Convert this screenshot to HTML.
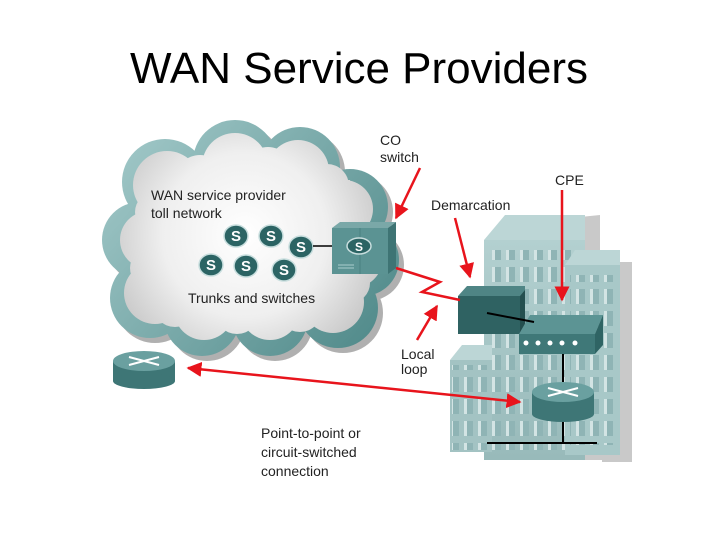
<!DOCTYPE html>
<html><head><style>
body{margin:0;width:720px;height:540px;background:#fff;overflow:hidden;font-family:"Liberation Sans",Arial,sans-serif;}
</style></head><body>
<svg width="720" height="540" viewBox="0 0 720 540" xmlns="http://www.w3.org/2000/svg" font-family="Liberation Sans, Arial, sans-serif">
<defs>
<radialGradient id="cg" gradientUnits="userSpaceOnUse" cx="245" cy="235" r="150"><stop offset="0" stop-color="#ffffff"/><stop offset="0.55" stop-color="#efefef"/><stop offset="1" stop-color="#c4c4c4"/></radialGradient>
<linearGradient id="tl" gradientUnits="userSpaceOnUse" x1="110" y1="120" x2="400" y2="360"><stop offset="0" stop-color="#a5cbcb"/><stop offset="1" stop-color="#4a8585"/></linearGradient>
<linearGradient id="bf" x1="0" y1="0" x2="0" y2="1"><stop offset="0" stop-color="#b3d0d0"/><stop offset="1" stop-color="#98baba"/></linearGradient>
<pattern id="win" width="14" height="22" patternUnits="userSpaceOnUse"><rect x="2" y="3" width="9" height="15" fill="#8fb4b5"/><rect x="2" y="3" width="3" height="15" fill="#d3e4e4"/></pattern>
<marker id="ah" viewBox="0 0 10 10" refX="9" refY="5" markerWidth="6" markerHeight="6" orient="auto-start-reverse"><path d="M0,0L10,5L0,10z" fill="#e8141c"/></marker>
</defs>
<text x="359" y="83" font-size="44" text-anchor="middle" fill="#000">WAN Service Providers</text>

<g fill="#b0b0b0">
<circle cx="170" cy="187" r="43"/><circle cx="240" cy="167" r="42"/><circle cx="305" cy="172" r="40"/><circle cx="355" cy="212" r="38"/><circle cx="368" cy="265" r="36"/><circle cx="343" cy="313" r="40"/><circle cx="275" cy="323" r="38"/><circle cx="207" cy="323" r="38"/><circle cx="155" cy="303" r="40"/><circle cx="145" cy="245" r="38"/>
<rect x="150" y="180" width="210" height="140"/>
</g>
<g fill="url(#tl)">
<circle cx="165" cy="182" r="43"/><circle cx="235" cy="162" r="42"/><circle cx="300" cy="167" r="40"/><circle cx="350" cy="207" r="38"/><circle cx="363" cy="260" r="36"/><circle cx="338" cy="308" r="40"/><circle cx="270" cy="318" r="38"/><circle cx="202" cy="318" r="38"/><circle cx="150" cy="298" r="40"/><circle cx="140" cy="240" r="38"/>
<rect x="145" y="175" width="210" height="140"/>
</g>
<g fill="url(#cg)">
<circle cx="167" cy="185" r="34"/><circle cx="235" cy="166" r="33"/><circle cx="298" cy="171" r="31"/><circle cx="344" cy="209" r="29"/><circle cx="355" cy="260" r="27"/><circle cx="333" cy="302" r="31"/><circle cx="270" cy="310" r="30"/><circle cx="204" cy="310" r="30"/><circle cx="155" cy="293" r="31"/><circle cx="149" cy="240" r="29"/>
<rect x="150" y="180" width="200" height="130"/>
<circle cx="200" cy="180" r="25"/><circle cx="268" cy="172" r="25"/><circle cx="327" cy="186" r="22"/><circle cx="353" cy="236" r="20"/><circle cx="350" cy="283" r="20"/><circle cx="300" cy="310" r="22"/><circle cx="237" cy="312" r="22"/><circle cx="175" cy="305" r="22"/><circle cx="150" cy="268" r="20"/><circle cx="155" cy="212" r="20"/>
</g>
<text x="151" y="200" font-size="14" fill="#222">WAN service provider</text>
<text x="151" y="218" font-size="14" fill="#222">toll network</text>
<text x="188" y="303" font-size="14" fill="#222">Trunks and switches</text>
<g font-size="15" font-weight="bold" fill="#fff" text-anchor="middle">
<g><ellipse cx="236" cy="236" rx="12" ry="11" fill="#2c6464" stroke="#c8dede" stroke-width="1.5"/><text x="236" y="241">S</text></g>
<g><ellipse cx="271" cy="236" rx="12" ry="11" fill="#2c6464" stroke="#c8dede" stroke-width="1.5"/><text x="271" y="241">S</text></g>
<g><ellipse cx="301" cy="247" rx="12" ry="11" fill="#2c6464" stroke="#c8dede" stroke-width="1.5"/><text x="301" y="252">S</text></g>
<g><ellipse cx="211" cy="265" rx="12" ry="11" fill="#2c6464" stroke="#c8dede" stroke-width="1.5"/><text x="211" y="270">S</text></g>
<g><ellipse cx="246" cy="266" rx="12" ry="11" fill="#2c6464" stroke="#c8dede" stroke-width="1.5"/><text x="246" y="271">S</text></g>
<g><ellipse cx="284" cy="270" rx="12" ry="11" fill="#2c6464" stroke="#c8dede" stroke-width="1.5"/><text x="284" y="275">S</text></g>
</g>
<line x1="313" y1="246" x2="345" y2="246" stroke="#000" stroke-width="1.5"/>
<polygon points="332,228 388,228 396,222 340,222" fill="#7aa8a8"/>
<polygon points="388,228 396,222 396,268 388,274" fill="#3e7474"/>
<rect x="332" y="228" width="56" height="46" fill="#5b9393"/>
<line x1="360" y1="228" x2="360" y2="274" stroke="#4a8080"/>
<line x1="338" y1="265" x2="354" y2="265" stroke="#a8cccc"/><line x1="338" y1="268" x2="354" y2="268" stroke="#a8cccc"/>
<ellipse cx="359" cy="246" rx="12" ry="8" fill="#2c6464" stroke="#c8dede" stroke-width="1.5"/>
<text x="359" y="251" font-size="12" font-weight="bold" fill="#fff" text-anchor="middle">S</text>

<polygon points="500,225 600,215 600,445 620,450 630,270 618,262" fill="#c9c9c9"/>
<rect x="602" y="262" width="30" height="200" fill="#c9c9c9"/>
<rect x="500" y="440" width="130" height="20" fill="#c9c9c9"/>
<polygon points="484,240 505,215 585,215 585,240" fill="#bcd6d6"/>
<rect x="484" y="240" width="101" height="220" fill="url(#bf)"/>
<rect x="490" y="250" width="90" height="200" fill="url(#win)"/>
<polygon points="565,265 575,250 620,250 620,265" fill="#bcd6d6"/>
<rect x="565" y="265" width="55" height="190" fill="#a8c8c8"/>
<rect x="570" y="275" width="45" height="170" fill="url(#win)"/>
<polygon points="450,360 462,345 492,345 492,360" fill="#bcd6d6"/>
<rect x="450" y="360" width="42" height="92" fill="#a3c3c3"/>
<rect x="452" y="365" width="40" height="85" fill="url(#win)"/>

<polygon points="458,296 467,286 525,286 525,296" fill="#4f8585"/>
<rect x="458" y="296" width="62" height="38" fill="#2f6262"/>
<polygon points="520,296 525,290 525,330 520,334" fill="#244f4f"/>
<polygon points="519,334 530,315 603,315 595,334" fill="#5c9494"/>
<polygon points="595,334 603,315 603,345 595,354" fill="#2f6464"/>
<rect x="519" y="334" width="76" height="20" fill="#3f7878"/>
<g fill="#fff"><circle cx="526" cy="343" r="2.5"/><circle cx="538" cy="343" r="2.5"/><circle cx="550" cy="343" r="2.5"/><circle cx="562" cy="343" r="2.5"/><circle cx="575" cy="343" r="2.5"/></g>
<line x1="487" y1="313" x2="534" y2="322" stroke="#000" stroke-width="2"/>
<line x1="563" y1="354" x2="563" y2="382" stroke="#000" stroke-width="2"/>
<line x1="563" y1="418" x2="563" y2="443" stroke="#000" stroke-width="2"/>
<line x1="487" y1="443" x2="597" y2="443" stroke="#000" stroke-width="2"/>
<g>
<rect x="532" y="392" width="62" height="22" fill="#3e7676"/><ellipse cx="563" cy="414" rx="31" ry="8" fill="#3e7676"/>
<ellipse cx="563" cy="392" rx="31" ry="10" fill="#6aa0a0"/>
<path d="M548,388 L578,396 M548,396 L578,388" stroke="#fff" stroke-width="2"/>
</g>
<g>
<rect x="113" y="361" width="62" height="20" fill="#3e7676"/><ellipse cx="144" cy="381" rx="31" ry="8" fill="#3e7676"/>
<ellipse cx="144" cy="361" rx="31" ry="10" fill="#6aa0a0"/>
<path d="M129,357 L159,365 M129,365 L159,357" stroke="#fff" stroke-width="2"/>
</g>

<g stroke="#e8141c" stroke-width="2.5" fill="none">
<line x1="420" y1="168" x2="396" y2="218" marker-end="url(#ah)"/>
<line x1="455" y1="218" x2="470" y2="277" marker-end="url(#ah)"/>
<line x1="562" y1="190" x2="562" y2="300" marker-end="url(#ah)"/>
<line x1="417" y1="340" x2="437" y2="306" marker-end="url(#ah)"/>
<polyline points="396,268 440,282 422,292 460,300"/>
<line x1="188" y1="368" x2="520" y2="402" marker-start="url(#ah)" marker-end="url(#ah)"/>
</g>
<g font-size="14" fill="#222">
<text x="380" y="145">CO</text><text x="380" y="162">switch</text>
<text x="431" y="210">Demarcation</text>
<text x="555" y="185">CPE</text>
<text x="401" y="359">Local</text><text x="401" y="374">loop</text>
<text x="261" y="438">Point-to-point or</text>
<text x="261" y="457">circuit-switched</text>
<text x="261" y="476">connection</text>
</g>
</svg>
</body></html>
